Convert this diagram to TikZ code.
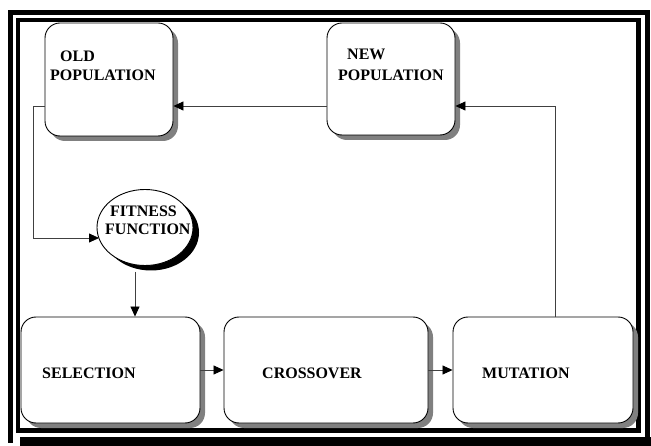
\documentclass[tikz,border=0pt]{standalone}
\usepackage{fontspec}
\setmainfont{Liberation Serif}
\usetikzlibrary{arrows.meta,shadows,shapes.geometric}
\begin{document}
\begin{tikzpicture}[x=1pt,y=-1pt,
  box/.style={draw=black,line width=0.9pt,fill=white,rounded corners=15pt,
    drop shadow={shadow xshift=5pt,shadow yshift=-5pt,fill=black!50,opacity=1}},
  ell/.style={draw=black,line width=0.9pt,fill=white,ellipse,inner sep=0pt,
    drop shadow={shadow xshift=6pt,shadow yshift=-5pt,fill=black,opacity=1}},
  lbl/.style={anchor=base west,inner sep=0pt,font=\fontsize{16}{19}\selectfont\bfseries},
  conn/.style={draw=black!75,line width=0.8pt},
  arr/.style={conn,-{Triangle[length=10pt,width=9pt,color=black]}},
  frm/.style={fill=black}]
\useasboundingbox (0,0) rectangle (651,446);
% frame
\fill[frm] (8,10) rectangle (650,15);
\fill[frm] (8,10) rectangle (13,443);
\fill[frm] (645,10) rectangle (650,446);
\fill[frm] (20,437) rectangle (651,446);
\fill[frm] (16,18) rectangle (641,22);
\fill[frm] (16,18) rectangle (20,433);
\fill[frm] (636,18) rectangle (641,433);
\fill[frm] (16,428) rectangle (641,433);
% nodes
\node[box,minimum width=128pt,minimum height=113pt] (old) at (109,79.5) {};
\node[box,minimum width=128pt,minimum height=112pt] (new) at (391,79) {};
\node[box,minimum width=179pt,minimum height=106pt] (sel) at (110.5,370) {};
\node[box,minimum width=204pt,minimum height=106pt] (cross) at (326,370) {};
\node[box,minimum width=180pt,minimum height=106pt] (mut) at (543,370) {};
\node[ell,minimum width=96pt,minimum height=76pt] (fit) at (145,227.5) {};
% labels
\node[lbl] (t1) at (60,62) {OLD};
\node[lbl] (t2) at (50,81) {POPULATION};
\node[lbl] (t3) at (347,60) {NEW};
\node[lbl] (t4) at (338,81) {POPULATION};
\node[lbl] (t5) at (110,217) {FITNESS};
\node[lbl] (t6) at (105,235) {FUNCTION};
\node[lbl] (t7) at (42,379) {SELECTION};
\node[lbl] (t8) at (262,379) {CROSSOVER};
\node[lbl] (t9) at (482,379) {MUTATION};
% connectors
\coordinate (c1) at (555,106);
\coordinate (c2) at (33,106);
\coordinate (c3) at (33,238);
\coordinate (fin) at (99,238);
\coordinate (c4) at (135,272);
\draw[arr] (new.west |- c1) -- (old.east |- c1);
\draw[arr] (mut.north -| c1) -- (c1) -- (new.east |- c1);
\draw[arr] (old.west |- c2) -- (c2) -- (c3) -- (fin);
\draw[arr] (c4) -- (sel.north -| c4);
\draw[arr] (sel.east) -- (cross.west);
\draw[arr] (cross.east) -- (mut.west);
\end{tikzpicture}
\end{document}
